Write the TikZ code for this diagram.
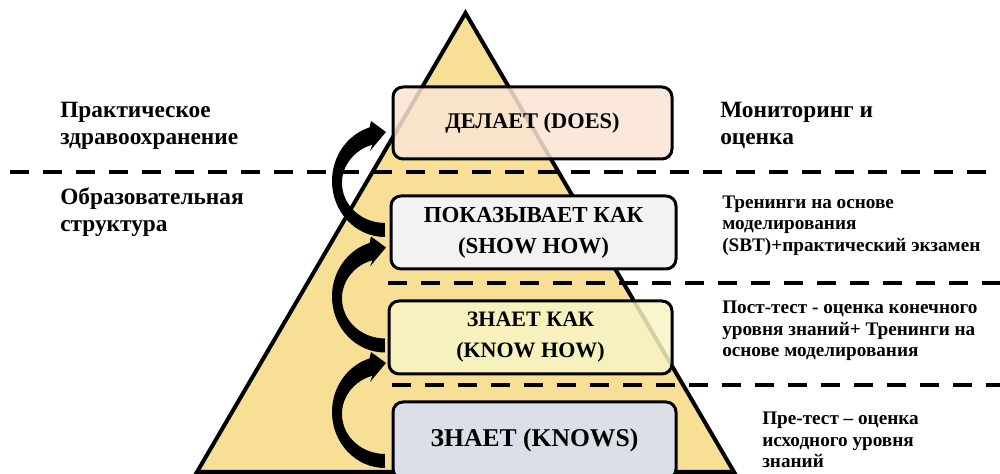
\documentclass[tikz,border=0pt]{standalone}
\usepackage{fontspec}
\setmainfont{Liberation Serif}
\definecolor{pyr}{HTML}{F7E096}
\definecolor{doesc}{HTML}{FBE4D5}
\definecolor{showc}{HTML}{F2F2F2}
\definecolor{knowhowc}{HTML}{F8F5C6}
\definecolor{knowsc}{HTML}{DADFE8}
\begin{document}
\begin{tikzpicture}[x=0.75pt,y=0.75pt,
  box/.style={draw=black, line width=2.25pt, rounded corners=7.5pt, align=center,
    inner sep=0pt, font=\bfseries\fontsize{16.8}{23.25}\selectfont},
  dashln/.style={line width=3pt, dash pattern=on 14.25pt off 10.5pt},
  bigtxt/.style={anchor=base west, align=left, inner sep=0pt,
    font=\bfseries\fontsize{17.5}{20.6}\selectfont},
  smalltxt/.style={anchor=base west, align=left, inner sep=0pt,
    font=\bfseries\fontsize{14.4}{16.3}\selectfont},
  curvarrow/.pic={
    \fill[black] (0,-56) arc[start angle=270, end angle=107, x radius=53, y radius=56]
      -- (-14,60) -- (1,49) -- (-15,30) -- (-12.6,36.3)
      arc[start angle=107, end angle=270, x radius=43, y radius=40] -- cycle;
  }]
\useasboundingbox (0,0) rectangle (1000,474);
\clip (0,0) rectangle (1000,474);
% pyramid
\coordinate (apex) at (465.5,461);
\coordinate (bl) at (197,2);
\coordinate (br) at (734,2);
\filldraw[fill=pyr, draw=black, line width=3pt, line join=miter] (apex) -- (br) -- (bl) -- cycle;
% dashed separators
\coordinate (d1a) at (10,302);  \coordinate (d1b) at (1000,302);
\coordinate (d2a) at (388,191); \coordinate (d2b) at (1000,191);
\coordinate (d3a) at (392,89);  \coordinate (d3b) at (1000,89);
\draw[dashln] (d1a) -- (d1b);
\draw[dashln] (d2a) -- (d2b);
\draw[dashln] (d3a) -- (d3b);
% boxes
\node[box, fill=doesc, fill opacity=0.85, text opacity=1, minimum width=209.25pt, minimum height=54pt] (does) at (532.5,351) {ДЕЛАЕТ (DOES)};
\node[box, fill=showc, font=\bfseries\fontsize{17.2}{23.25}\selectfont, minimum width=213.75pt, minimum height=54.75pt] (show) at (533.5,241.5) {ПОКАЗЫВАЕТ КАК\\(SHOW HOW)};
\node[box, fill=knowhowc, fill opacity=0.85, text opacity=1, font=\bfseries\fontsize{16.5}{23.25}\selectfont, minimum width=212.25pt, minimum height=54.75pt] (knowhow) at (530.5,136.5) {ЗНАЕТ КАК\\(KNOW HOW)};
\node[box, fill=knowsc, font=\bfseries\fontsize{19.2}{23.25}\selectfont, minimum width=212.25pt, minimum height=57.75pt] (knows) at (534.5,33.5) {ЗНАЕТ (KNOWS)};
% curved arrows
\pic at (385,62) {curvarrow};
\pic at (385,177.5) {curvarrow};
\pic at (385,293) {curvarrow};
% side texts (anchored at the baseline of the last line)
\node[bigtxt] (prakt) at (60,329.5) {Практическое\\здравоохранение};
\node[bigtxt] (obraz) at (60,242.3) {Образовательная\\структура};
\node[bigtxt] (monit) at (720,329.5) {Мониторинг и\\оценка};
\node[smalltxt] (sbt) at (722,222.3) {Тренинги на основе\\моделирования\\(SBT)+практический экзамен};
\node[smalltxt] (post) at (722,117) {Пост-тест - оценка конечного\\уровня знаний+ Тренинги на\\основе моделирования};
\node[smalltxt] (pre) at (762,6) {Пре-тест – оценка\\исходного уровня\\знаний};
\end{tikzpicture}
\end{document}
